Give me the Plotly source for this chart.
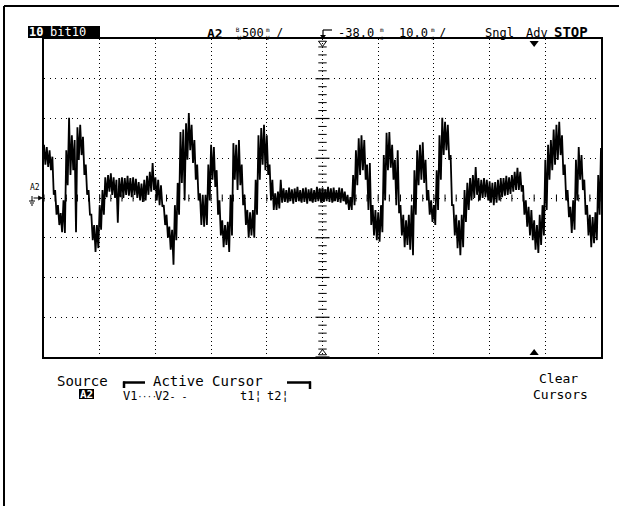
import numpy as np
import plotly.graph_objects as go

# ---- acquisition settings (HP scope screen) ----
T_START_MS = -88.0          # left edge of screen (delay -38 ms, 10 ms/div)
T_STEP_MS = 0.5             # peak-detect bucket width
TIME_DIV_MS = 10.0
VOLT_DIV = 0.5              # 500 mV/div
DELAY_MS = -38.0

# Channel A2 peak-detect record, volts: max and min of each 0.5 ms bucket
a2_max = [
    0.67, 0.64, 0.60, 0.52, 0.10, -0.09, -0.19, -0.03, 0.60, 1.01,
    0.79, 0.73, 0.89, 0.92, 0.77, 0.42, 0.10, -0.21, -0.34, -0.34,
    -0.09, 0.10, 0.26, 0.29, 0.31, 0.26, 0.23, 0.25, 0.26, 0.25,
    0.28, 0.25, 0.26, 0.24, 0.20, 0.18, 0.23, 0.28, 0.33, 0.44,
    0.26, 0.23, 0.16, -0.09, -0.21, -0.36, -0.40, -0.09, 0.19, 0.83,
    0.86, 0.94, 1.07, 0.92, 0.73, 0.42, 0.06, 0.04, 0.04, 0.42,
    0.67, 0.64, 0.35, -0.03, -0.28, -0.34, -0.30, 0.04, 0.69, 0.67,
    0.73, 0.42, 0.04, -0.15, -0.18, -0.15, 0.23, 0.79, 0.88, 0.92,
    0.79, 0.42, 0.23, 0.06, 0.08, 0.23, 0.12, 0.10, 0.13, 0.11,
    0.12, 0.14, 0.10, 0.12, 0.13, 0.11, 0.12, 0.10, 0.14, 0.12,
    0.13, 0.11, 0.14, 0.12, 0.13, 0.10, 0.13, 0.12, 0.08, 0.04,
    0.01, 0.29, 0.60, 0.75, 0.79, 0.73, 0.42, 0.44, -0.09, -0.15,
    -0.18, -0.09, 0.54, 0.82, 0.83, 0.67, 0.48, 0.60, -0.09, -0.21,
    -0.28, -0.21, -0.09, 0.35, 0.60, 0.67, 0.70, 0.48, 0.10, -0.03,
    -0.09, 0.35, 0.79, 1.01, 0.96, 0.92, 0.54, -0.09, -0.21, -0.28,
    -0.21, 0.10, 0.19, 0.25, 0.29, 0.39, 0.25, 0.23, 0.25, 0.23,
    0.21, 0.19, 0.20, 0.23, 0.25, 0.25, 0.28, 0.26, 0.29, 0.33,
    0.38, 0.33, 0.16, -0.03, -0.11, -0.15, -0.28, -0.34, -0.21, -0.09,
    0.48, 0.67, 0.73, 0.86, 0.92, 0.96, 0.79, 0.42, 0.10, -0.11,
    -0.03, 0.48, 0.64, 0.54, 0.23, -0.09, -0.21, -0.24, -0.18, 0.29,
    0.63,
]
a2_min = [
    0.42, 0.39, 0.35, 0.04, -0.21, -0.34, -0.43, -0.44, 0.16, 0.29,
    0.35, -0.43, 0.48, 0.54, 0.29, 0.04, -0.21, -0.53, -0.68, -0.63,
    -0.40, -0.21, 0.01, 0.08, 0.04, 0.00, -0.31, 0.01, 0.00, 0.04,
    0.03, 0.01, 0.04, 0.00, -0.03, -0.05, -0.03, 0.04, 0.08, 0.10,
    -0.03, -0.09, -0.11, -0.34, -0.50, -0.65, -0.84, -0.53, -0.21, 0.19,
    -0.03, 0.48, 0.60, 0.44, 0.23, -0.03, -0.34, -0.36, -0.34, -0.03,
    0.23, 0.14, -0.21, -0.47, -0.62, -0.59, -0.68, -0.47, 0.23, 0.10,
    0.16, -0.09, -0.34, -0.50, -0.47, -0.50, -0.21, 0.23, 0.42, 0.35,
    0.29, -0.03, -0.15, -0.15, -0.13, -0.06, -0.05, -0.06, -0.04, -0.07,
    -0.05, -0.04, -0.06, -0.05, -0.07, -0.04, -0.06, -0.05, -0.04, -0.06,
    -0.05, -0.04, -0.05, -0.06, -0.04, -0.05, -0.06, -0.04, -0.08, -0.15,
    -0.15, -0.09, 0.16, 0.29, 0.35, 0.23, -0.15, -0.34, -0.47, -0.53,
    -0.55, -0.43, -0.03, 0.35, 0.38, 0.23, -0.09, -0.19, -0.47, -0.62,
    -0.59, -0.65, -0.72, -0.21, 0.16, 0.23, 0.19, -0.03, -0.21, -0.30,
    -0.34, -0.15, 0.23, 0.54, 0.60, 0.48, -0.09, -0.47, -0.63, -0.72,
    -0.62, -0.30, -0.15, -0.03, 0.00, 0.04, -0.03, 0.00, 0.01, -0.03,
    -0.06, -0.09, -0.06, -0.03, 0.01, 0.03, 0.04, 0.05, 0.08, 0.10,
    0.10, 0.08, -0.21, -0.36, -0.47, -0.53, -0.65, -0.69, -0.59, -0.47,
    -0.15, 0.23, 0.35, 0.42, 0.48, 0.54, 0.29, -0.03, -0.24, -0.44,
    -0.40, -0.03, 0.23, 0.10, -0.21, -0.47, -0.62, -0.57, -0.53, -0.21,
    0.19,
]

# trace drawn as max/min pairs, as the scope paints a peak-detect record
bucket_t = T_START_MS + T_STEP_MS * np.arange(len(a2_max))
trace_t = np.column_stack([bucket_t, bucket_t + T_STEP_MS / 2]).ravel()
trace_v = np.column_stack([a2_max, a2_min]).ravel()

X_RANGE = [T_START_MS, T_START_MS + 10 * TIME_DIV_MS]
Y_RANGE = [-4 * VOLT_DIV, 4 * VOLT_DIV]

# ---- page geometry (pixels) ----
W, H = 619, 506
L, R, T, B = 44, 601, 39, 357
FONT = "DejaVu Sans Mono"


def px(x):
    return (x - L) / (R - L)


def py(y):
    return (B - y) / (B - T)


fig = go.Figure()

# centre-line graticule ticks: 1/5 division on both centre axes
vt = np.arange(Y_RANGE[0], Y_RANGE[1] + 1e-9, VOLT_DIV / 5)
major = np.mod(np.round(vt / (VOLT_DIV / 5)).astype(int), 5) == 0
fig.add_trace(go.Scatter(x=[DELAY_MS] * int((~major).sum()), y=vt[~major], mode="markers",
                         marker=dict(symbol="line-ew", size=6, line=dict(color="black", width=1)),
                         hoverinfo="skip", cliponaxis=False))
fig.add_trace(go.Scatter(x=[DELAY_MS] * int(major.sum()), y=vt[major], mode="markers",
                         marker=dict(symbol="line-ew", size=10, line=dict(color="black", width=1.2)),
                         hoverinfo="skip", cliponaxis=False))
ht = np.arange(X_RANGE[0], X_RANGE[1] + 1e-9, TIME_DIV_MS / 5)
fig.add_trace(go.Scatter(x=ht, y=[0.0] * len(ht), mode="markers",
                         marker=dict(symbol="line-ns", size=5, line=dict(color="black", width=1)),
                         hoverinfo="skip"))

# the waveform
fig.add_trace(go.Scatter(x=trace_t, y=trace_v, mode="lines",
                         line=dict(color="black", width=1.8), hoverinfo="skip"))

# delay reference (hollow) and trigger point (filled) markers
fig.add_trace(go.Scatter(x=[DELAY_MS, DELAY_MS], y=[Y_RANGE[1] - 0.05, Y_RANGE[0] + 0.05], mode="markers",
                         marker=dict(symbol=["triangle-down-open", "triangle-up-open"], size=7,
                                     color="black", line=dict(width=1)),
                         hoverinfo="skip", cliponaxis=False))
fig.add_trace(go.Scatter(x=[0.0, 0.0], y=[Y_RANGE[1] - 0.05, Y_RANGE[0] + 0.05], mode="markers",
                         marker=dict(symbol=["triangle-down", "triangle-up"], size=8, color="black"),
                         hoverinfo="skip", cliponaxis=False))

shapes = []
annotations = []


def text(s, x, y, size=12, color="black", anchor="center"):
    annotations.append(dict(text=s, x=px(x), y=py(y), xref="paper", yref="paper",
                            xanchor=anchor, yanchor="middle", showarrow=False,
                            font=dict(family=FONT, size=size, color=color)))


def line(x0, y0, x1, y1, width=1.0, color="black"):
    shapes.append(dict(type="line", xref="paper", yref="paper",
                       x0=px(x0), y0=py(y0), x1=px(x1), y1=py(y1),
                       line=dict(color=color, width=width)))


def box(x0, y0, x1, y1, color="black"):
    shapes.append(dict(type="rect", xref="paper", yref="paper",
                       x0=px(x0), y0=py(y0), x1=px(x1), y1=py(y1),
                       fillcolor=color, line=dict(width=0)))


# outer frame (top and left edges)
line(4, 6, 619, 6, width=2)
line(4, 6, 4, 506, width=2)

# status line
box(28, 26, 100, 38)
text("<b>10</b>", 36, 32, size=12, color="white")
text("bit10", 68, 32, size=12, color="white")
text("<b>A2</b>", 215, 33, size=13)
text("B<br> W", 238, 33, size=6)
text("500", 253, 33)
text("m<br>V", 268, 33, size=6)
text("/", 279, 33)
# trigger level icon
line(323, 30, 332, 30, width=1.2)
line(323, 30, 323, 37, width=1.2)
shapes.append(dict(type="path", xref="paper", yref="paper",
                   path=f"M {px(320)} {py(35)} L {px(326)} {py(35)} L {px(323)} {py(39)} Z",
                   fillcolor="black", line=dict(width=0)))
text("-38.0", 356, 33)
text("m<br>s", 382, 33, size=6)
text("10.0", 413, 33)
text("m<br>s", 433, 33, size=6)
text("/", 442, 33)
text("Sngl", 499, 33)
text("Adv", 537, 33)
text("<b>STOP</b>", 571, 32, size=14)

# channel marker at the left edge (A2 ground level)
text("A2", 35, 187, size=8)
annotations.append(dict(x=px(43), y=py(198), ax=-11, ay=0, xref="paper", yref="paper",
                        axref="pixel", ayref="pixel", showarrow=True, arrowhead=2, arrowsize=0.8,
                        arrowwidth=1.2, arrowcolor="black", text=""))
line(32, 196, 32, 201, width=1)
line(29, 201, 35, 201, width=1)
line(30, 203, 34, 203, width=1)
line(31, 205, 33, 205, width=1)

# softkey menu
text("Source", 82, 380.5, size=14)
box(79, 389, 94, 399)
text("<b>A2</b>", 86.5, 394.5, size=11, color="white")
line(123, 382.5, 145, 382.5, width=2.5)
line(124, 381.5, 124, 388, width=2.5)
text("Active Cursor", 208, 380.5, size=14)
line(287, 382.5, 311, 382.5, width=2.5)
line(310, 381.5, 310, 389, width=2.5)
text("V1<span style='font-size:8px'>····</span>", 140, 395.5, size=12)
text("V2<span style='font-size:10px'>- -</span>", 171, 395.5, size=12)
text("t1¦", 251, 395.5, size=12)
text("t2¦", 278, 395.5, size=12)
text("Clear", 558, 378, size=13)
text("Cursors", 560, 394, size=13)

fig.update_layout(
    width=W, height=H, autosize=False,
    margin=dict(l=L, r=W - R, t=T, b=H - B, pad=0),
    paper_bgcolor="white", plot_bgcolor="white",
    showlegend=False,
    shapes=shapes, annotations=annotations,
    xaxis=dict(range=X_RANGE, tick0=X_RANGE[0], dtick=TIME_DIV_MS, showticklabels=False, ticks="",
               showgrid=True, gridcolor="black", gridwidth=1, griddash="1px,2.975px",
               zeroline=False, showline=True, mirror=True, linecolor="black", linewidth=1.5,
               fixedrange=True),
    yaxis=dict(range=Y_RANGE, tick0=Y_RANGE[0], dtick=VOLT_DIV, showticklabels=False, ticks="",
               showgrid=True, gridcolor="black", gridwidth=1, griddash="1px,4.57px",
               zeroline=False, showline=True, mirror=True, linecolor="black", linewidth=1.5,
               fixedrange=True),
)

fig.write_html("out.html", config={"displayModeBar": False})
